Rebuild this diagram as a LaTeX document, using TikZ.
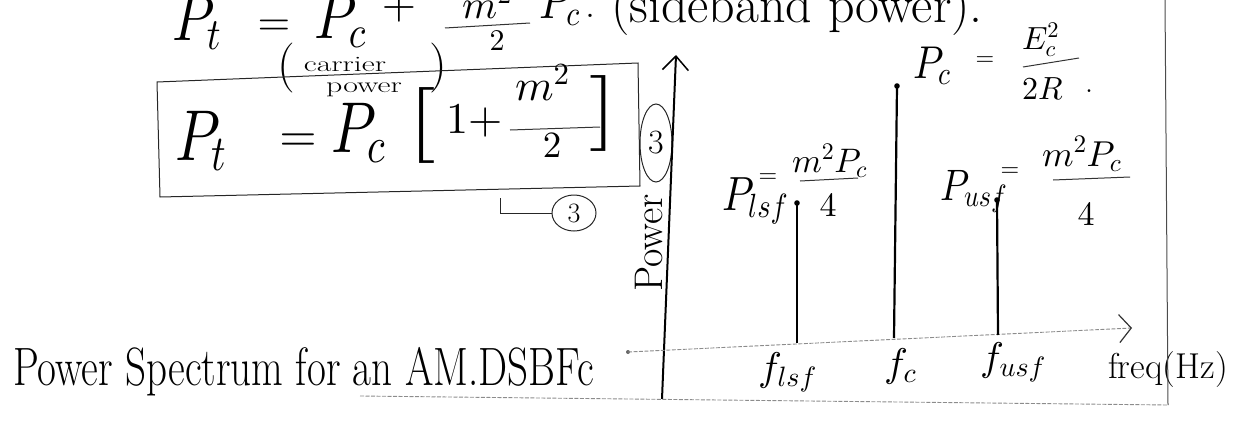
\documentclass[tikz,border=0pt]{standalone}
\DeclareFontShape{OML}{cmm}{m}{it}{<->cmmi10}{}
\DeclareFontShape{OT1}{cmr}{m}{n}{<->cmr10}{}
\DeclareFontShape{OMS}{cmsy}{m}{n}{<->cmsy10}{}
\DeclareFontShape{OMX}{cmex}{m}{n}{<->cmex10}{}
\usetikzlibrary{arrows.meta,shapes.geometric}
\newcommand\myfs[1]{\fontsize{#1}{#1}\selectfont}
\begin{document}
\begin{tikzpicture}[x=1pt,y=-1pt,
  tx/.style={inner sep=0pt,outer sep=0pt},
  ink/.style={draw=black!85,line width=1pt},
  stem/.style={draw=black,line width=2.2pt},
  frac/.style={draw=black!80,line width=1pt},
  faint/.style={draw=black!45,line width=0.9pt,dash pattern=on 4pt off 1.5pt},
  circ/.style={tx,draw=black!85,line width=1pt,ellipse},
]
\useasboundingbox (0,0) rectangle (1240,423);
\clip (0,0) rectangle (1240,423);

% ---- top row (cut at the top edge)
\node[tx,anchor=base west,font={\myfs{64}},xscale=0.85] (tPt) at (172,40) {$P_t$};
\node[tx,font={\myfs{42}}] (teq) at (274,28) {$=$};
\node[tx,anchor=base west,font={\myfs{64}},xscale=0.85] (tPc) at (314,38) {$P_c$};
\node[tx,font={\myfs{44}}] (tplus) at (399,8) {$+$};
\node[tx,anchor=base,font={\myfs{40}}] (tm) at (487,18) {$m^2$};
\draw[frac] (445,28) -- (530,23);
\node[tx,anchor=base,font={\myfs{30}}] (tden) at (497,50) {$2$};
\node[tx,anchor=base west,font={\myfs{50}},xscale=0.85] (tPc2) at (539,18) {$P_c$};
\node[tx,anchor=base,font={\myfs{40}}] (tdot) at (590,17) {.};
\node[tx,anchor=base west,font={\myfs{52}}] (tside) at (611,22) {(sideband power).};

% ---- (carrier power)
\node[tx,font={\myfs{50}}] (cpL) at (286,68) {(};
\node[tx,font={\myfs{50}}] (cpR) at (438,68) {)};
\node[tx,font={\myfs{22}},xscale=1.45] (cpw1) at (345,64) {carrier};
\node[tx,font={\myfs{22}},xscale=1.45] (cpw2) at (364,90) {power};

% ---- box
\coordinate (bTL) at (157,82);
\coordinate (bTR) at (638,63);
\coordinate (bBR) at (640,186);
\coordinate (bBL) at (160,197);
\draw[ink] (bBL) -- (bTL) -- (bTR) -- (bBR) -- cycle;

% ---- boxed equation
\node[tx,anchor=base west,font={\myfs{72}},xscale=0.8] (bPt) at (175,160) {$P_t$};
\node[tx,font={\myfs{48}}] (beq) at (298,143) {$=$};
\node[tx,anchor=base west,font={\myfs{72}},xscale=0.8] (bPc) at (331,152) {$P_c$};
\node[tx,font={\myfs{76}},xscale=1.5] (bLb) at (422,125) {[};
\node[tx,anchor=base west,font={\myfs{44}}] (b1p) at (446,133) {$1{+}$};
\node[tx,anchor=base west,font={\myfs{44}}] (bm) at (515,100) {$m^2$};
\draw[frac] (510,130) -- (600,127);
\node[tx,anchor=base,font={\myfs{37}}] (bden) at (552,157) {$2$};
\node[tx,font={\myfs{76}},xscale=1.5] (bRb) at (604,113) {]};

% ---- circled 3s
\node[circ,minimum width=32pt,minimum height=78pt,font={\myfs{34}}] (c3a) at (656,143) {3};
\node[circ,minimum width=44pt,minimum height=36pt,font={\myfs{28}}] (c3b) at (574,213) {3};
\coordinate (brk) at (500,198);
\draw[ink] (brk) |- (c3b.west);

% ---- axes
\coordinate (vaB) at (662,399);
\coordinate (vaT) at (676,55);
\draw[draw=black,line width=2pt,-{Straight Barb[length=14pt,width=26pt,line width=1.5pt]}] (vaB) -- (vaT);
\node[tx,rotate=90,anchor=base,font={\myfs{40}}] (ylab) at (662,243) {Power};

\coordinate (haL) at (628,352);
\coordinate (haT) at (1132,328);
\fill[black!60] (haL) circle (2);
\draw[faint,-{Straight Barb[length=12pt,width=28pt,line width=1.2pt,color=black!80]}] (haL) -- (haT);

% ---- spectral lines
\coordinate (lsfT) at (797,203); \coordinate (lsfB) at (797,343);
\coordinate (cT) at (897,86);    \coordinate (cB) at (894,338);
\coordinate (usfT) at (997,200); \coordinate (usfB) at (998,335);
\draw[stem] (lsfT) -- (lsfB);
\draw[stem] (cT) -- (cB);
\draw[stem] (usfT) -- (usfB);
\fill (lsfT) circle (2.8);
\fill (cT) circle (2.8);
\fill (usfT) circle (2.8);

% ---- axis labels
\node[tx,anchor=base west,font={\myfs{40}}] (flsf) at (758,380) {$f_{lsf}$};
\node[tx,anchor=base west,font={\myfs{40}}] (fc) at (884,376) {$f_c$};
\node[tx,anchor=base west,font={\myfs{40}}] (fusf) at (980,370) {$f_{usf}$};
\node[tx,anchor=base west,font={\myfs{36}}] (freq) at (1108,378) {freq(Hz)};

% ---- P_lsf
\node[tx,anchor=base west,font={\myfs{48}},xscale=0.85] (plsf) at (722,210) {$P_{lsf}$};
\node[tx,font={\myfs{24}}] (plsfeq) at (768,178) {$=$};
\node[tx,anchor=base west,font={\myfs{34}}] (lnum) at (792,172) {$m^2P_c$};
\draw[frac] (800,181) -- (858,178);
\node[tx,anchor=base,font={\myfs{34}}] (lden) at (828,216) {$4$};

% ---- P_usf
\node[tx,anchor=base west,font={\myfs{44}},xscale=0.85] (pusf) at (940,200) {$P_{usf}$};
\node[tx,font={\myfs{24}}] (pusfeq) at (1010,172) {$=$};
\node[tx,anchor=base west,font={\myfs{36}}] (unum) at (1042,166) {$m^2P_c$};
\draw[frac] (1053,180) -- (1130,177);
\node[tx,anchor=base,font={\myfs{34}}] (uden) at (1086,225) {$4$};

% ---- P_c = E_c^2 / 2R
\node[tx,anchor=base west,font={\myfs{46}},xscale=0.85] (cPc) at (913,78) {$P_c$};
\node[tx,font={\myfs{24}}] (ceq) at (985,61) {$=$};
\node[tx,anchor=base west,font={\myfs{32}}] (cnum) at (1022,49) {$E_c^2$};
\draw[frac] (1023,67) -- (1079,58);
\node[tx,anchor=base west,font={\myfs{32}}] (cden) at (1022,99) {$2R$};
\node[tx,anchor=base,font={\myfs{34}}] (cdot) at (1089,92) {.};

% ---- caption
\node[tx,anchor=base west,font={\myfs{54}},xscale=0.76] (title) at (13,385) {Power Spectrum for an AM.DSBFc};

% ---- frame lines
\coordinate (bl1) at (360,396);
\coordinate (br) at (1168,405);
\coordinate (tr) at (1165,0);
\draw[faint] (bl1) -- (br);
\draw[draw=black!70,line width=1pt] (tr) -- (br);
\end{tikzpicture}
\end{document}
